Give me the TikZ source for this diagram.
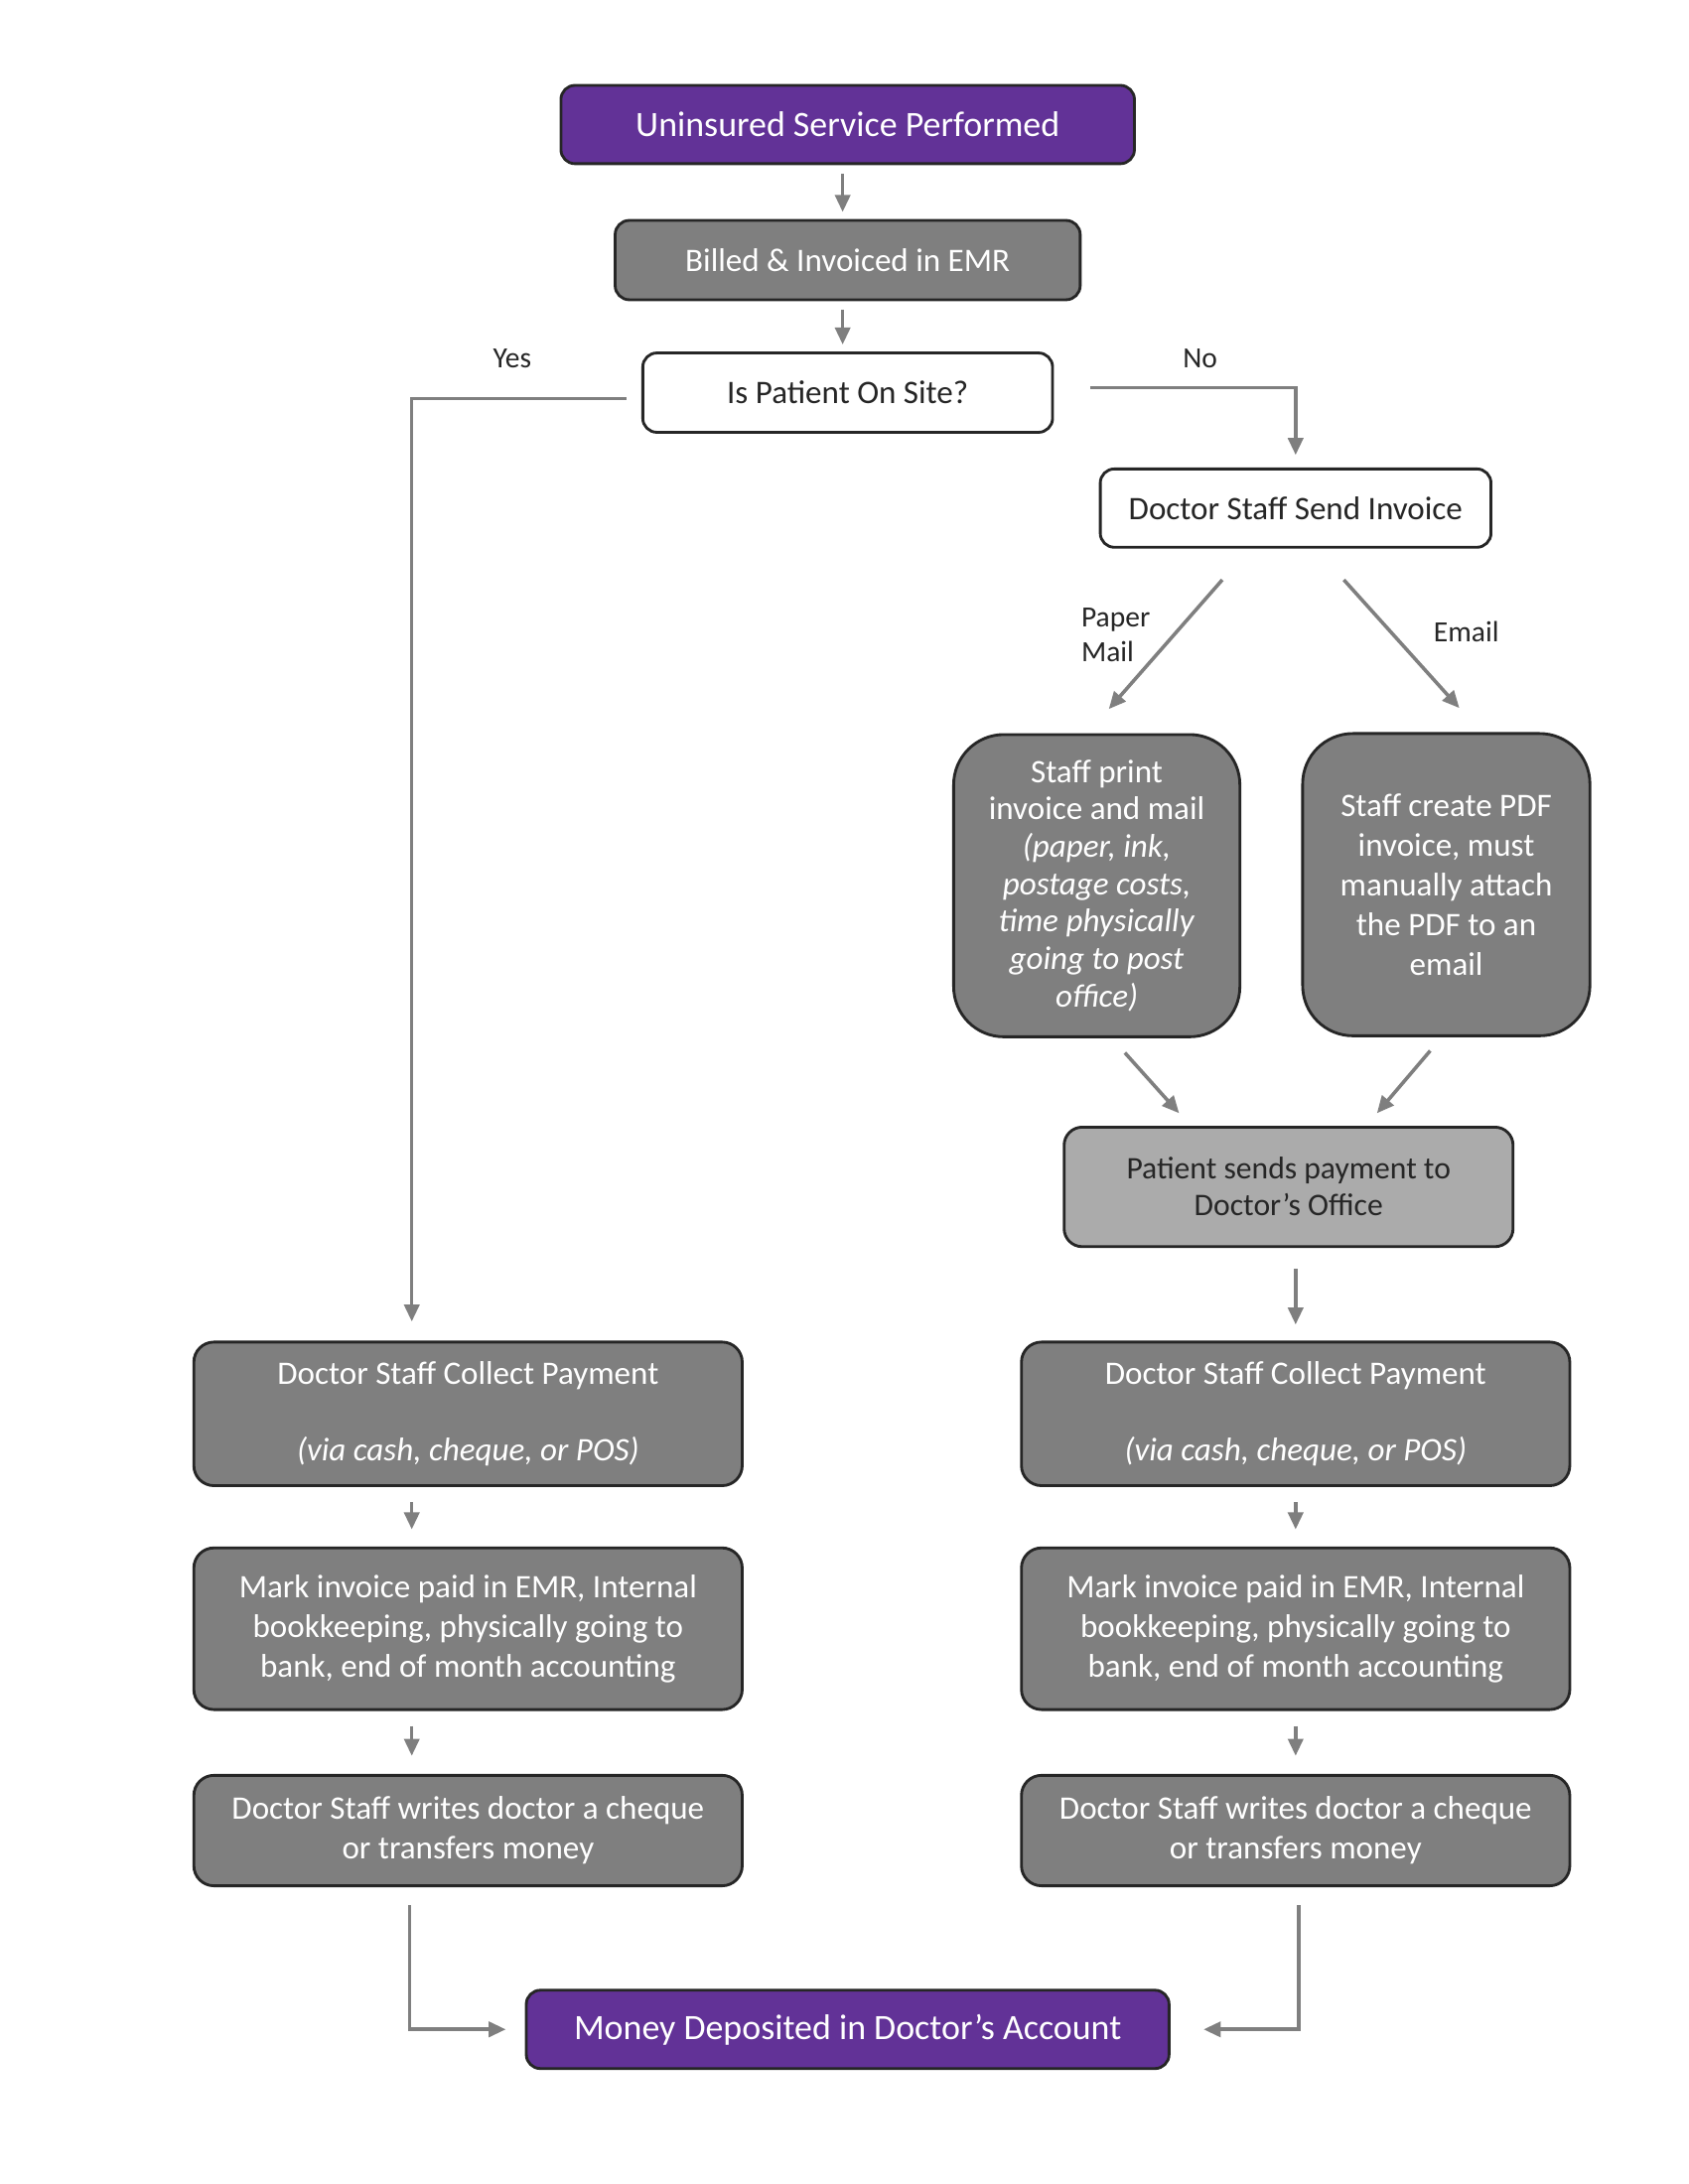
\documentclass[tikz,border=0pt]{standalone}
\usepackage{fontspec}
\setmainfont{Carlito}
\usepackage{tikz}
\usetikzlibrary{arrows.meta,calc}

\definecolor{violetbox}{HTML}{623297}
\definecolor{greybox}{HTML}{7F7F7F}
\definecolor{lightbox}{HTML}{ABABAB}
\definecolor{edgedark}{HTML}{262626}
\definecolor{arrowgrey}{HTML}{7F7F7F}

\begin{document}
\begin{tikzpicture}[
    box/.style={draw=edgedark, line width=0.8pt, rounded corners=0.14cm, align=center, inner sep=0pt, font=\fontsize{9.3}{11.2}\selectfont},
    purplebox/.style={box, fill=violetbox, text=white, font=\fontsize{10.1}{12}\selectfont},
    darkbox/.style={box, fill=greybox, text=white},
    whitebox/.style={box, fill=white, text=edgedark},
    flow/.style={draw=arrowgrey, line width=1pt, -{Triangle[width=0.15cm,length=0.17cm]}},
    tag/.style={text=edgedark, inner sep=0pt, font=\fontsize{8.3}{9.9}\selectfont}
]
    \useasboundingbox (0,0) rectangle (16.81,-21.75);

    % Top of the flow
    \node[purplebox, minimum width=5.71cm, minimum height=0.78cm] (service) at (8.44,-1.24) {Uninsured Service Performed};
    \node[darkbox, minimum width=4.63cm, minimum height=0.79cm] (billed) at (8.44,-2.59) {Billed \& Invoiced in EMR};
    \node[whitebox, minimum width=4.08cm, minimum height=0.79cm] (onsite) at (8.44,-3.91) {Is Patient On Site?};

    % Patient not on site: invoice is sent
    \node[whitebox, minimum width=3.89cm, minimum height=0.78cm] (sendinv) at (12.90,-5.06) {Doctor Staff Send Invoice};
    \node[darkbox, rounded corners=0.5cm, minimum width=2.85cm, minimum height=3.01cm, font=\fontsize{9.3}{10.6}\selectfont] (printmail) at (10.92,-8.82)
        {Staff print\\invoice and mail\\\textit{(paper, ink,}\\\textit{postage costs,}\\\textit{time physically}\\\textit{going to post}\\\textit{office)}};
    \node[darkbox, rounded corners=0.5cm, minimum width=2.86cm, minimum height=3.01cm] (pdfmail) at (14.40,-8.81)
        {Staff create PDF\\invoice, must\\manually attach\\the PDF to an\\email};
    \node[box, fill=lightbox, text=edgedark, rounded corners=0.18cm, minimum width=4.47cm, minimum height=1.19cm, font=\fontsize{8.9}{10.4}\selectfont] (patientpays) at (12.83,-11.82)
        {Patient sends payment to\\Doctor’s Office};

    % Left column (patient on site)
    \node[darkbox, rounded corners=0.2cm, minimum width=5.46cm, minimum height=1.43cm] (collectL) at (4.66,-14.08)
        {Doctor Staff Collect Payment\\[10.5pt]\textit{(via cash, cheque, or POS)}};
    \node[darkbox, rounded corners=0.2cm, minimum width=5.46cm, minimum height=1.61cm] (markL) at (4.66,-16.22)
        {Mark invoice paid in EMR, Internal\\bookkeeping, physically going to\\bank, end of month accounting};
    \node[darkbox, rounded corners=0.2cm, minimum width=5.46cm, minimum height=1.10cm] (writesL) at (4.66,-18.23)
        {Doctor Staff writes doctor a cheque\\or transfers money};

    % Right column (after payment is sent)
    \node[darkbox, rounded corners=0.2cm, minimum width=5.46cm, minimum height=1.43cm] (collectR) at (12.90,-14.08)
        {Doctor Staff Collect Payment\\[10.5pt]\textit{(via cash, cheque, or POS)}};
    \node[darkbox, rounded corners=0.2cm, minimum width=5.46cm, minimum height=1.61cm] (markR) at (12.90,-16.22)
        {Mark invoice paid in EMR, Internal\\bookkeeping, physically going to\\bank, end of month accounting};
    \node[darkbox, rounded corners=0.2cm, minimum width=5.46cm, minimum height=1.10cm] (writesR) at (12.90,-18.23)
        {Doctor Staff writes doctor a cheque\\or transfers money};

    % End of the flow
    \node[purplebox, minimum width=6.40cm, minimum height=0.78cm] (money) at (8.44,-20.21) {Money Deposited in Doctor’s Account};

    % Branch labels
    \node[tag] (yes) at (5.10,-3.57) {Yes};
    \node[tag] (no) at (11.95,-3.57) {No};
    \node[tag, align=left, anchor=west] (paper) at (10.76,-6.32) {Paper\\Mail};
    \node[tag] (email) at (14.60,-6.29) {Email};

    % Spine arrows
    \draw[flow, shorten <=0.085cm, shorten >=0.07cm] ([xshift=-0.05cm]service.south) -- ([xshift=-0.05cm]billed.north);
    \draw[flow, shorten <=0.085cm, shorten >=0.07cm] ([xshift=-0.05cm]billed.south) -- ([xshift=-0.05cm]onsite.north);

    % Yes / No branches
    \draw[flow, shorten >=0.19cm] ([xshift=-0.15cm, yshift=-0.06cm]onsite.west) -| ([xshift=-0.56cm]collectL.north);
    \draw[flow, shorten >=0.125cm] ([xshift=0.36cm, yshift=0.05cm]onsite.east) -| (sendinv.north);

    % Paper mail / email
    \draw[flow] ([shift={(-0.73,-0.31)}]sendinv.south) -- ([shift={(0.12,0.24)}]printmail.north);
    \draw[flow] ([shift={(0.48,-0.31)}]sendinv.south) -- ([shift={(0.13,0.24)}]pdfmail.north);
    \draw[flow] ([shift={(0.28,-0.145)}]printmail.south) -- ([shift={(-1.09,0.125)}]patientpays.north);
    \draw[flow] ([shift={(-0.16,-0.135)}]pdfmail.south) -- ([shift={(0.88,0.125)}]patientpays.north);
    \draw[flow, shorten <=0.21cm, shorten >=0.16cm] (patientpays.south -| collectR.north) -- (collectR.north);

    % Column arrows
    \draw[flow, shorten <=0.15cm, shorten >=0.17cm] ([xshift=-0.56cm]collectL.south) -- ([xshift=-0.56cm]markL.north);
    \draw[flow, shorten <=0.15cm, shorten >=0.18cm] ([xshift=-0.56cm]markL.south) -- ([xshift=-0.56cm]writesL.north);
    \draw[flow, shorten <=0.15cm, shorten >=0.17cm] (collectR.south) -- (markR.north);
    \draw[flow, shorten <=0.15cm, shorten >=0.18cm] (markR.south) -- (writesR.north);

    % Into the account
    \draw[flow, shorten >=0.19cm] ([xshift=-0.58cm, yshift=-0.18cm]writesL.south) |- (money.west);
    \draw[flow, shorten >=0.33cm] ([xshift=0.03cm, yshift=-0.18cm]writesR.south) |- (money.east);
\end{tikzpicture}
\end{document}
